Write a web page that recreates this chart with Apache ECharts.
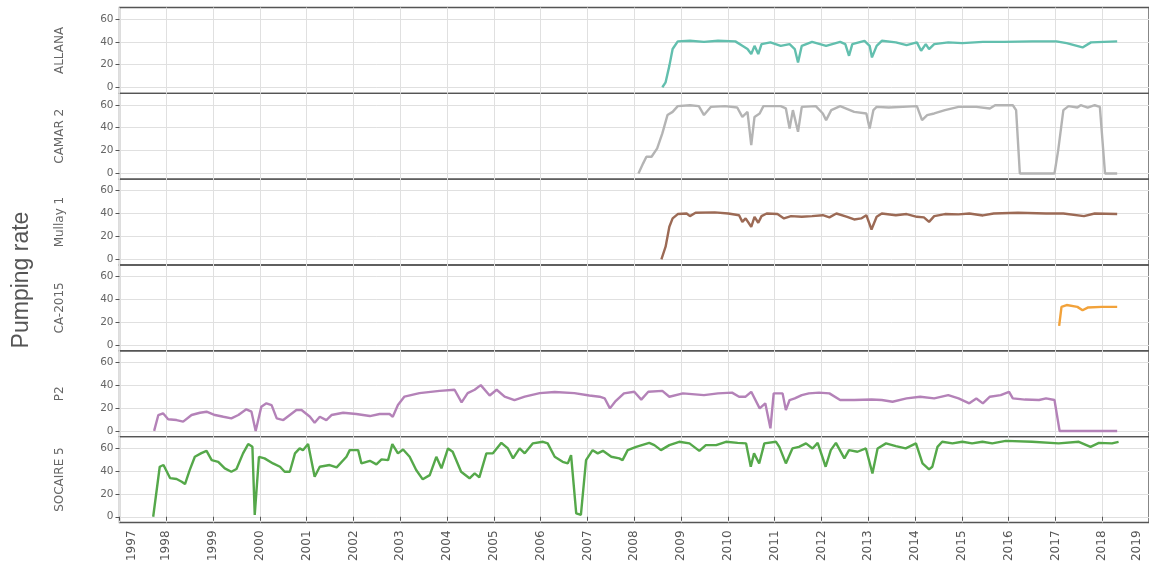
<!DOCTYPE html>
<html><head><meta charset="utf-8">
<script src="https://cdn.jsdelivr.net/npm/echarts@6/dist/echarts.min.js"></script>
<style>html,body{margin:0;padding:0;background:#fff}#c{width:1149px;height:574px}</style>
</head><body><div id="c"></div>
<script>
const panelNames = ['ALLANA', 'CAMAR 2', 'Mullay 1', 'CA-2015', 'P2', 'SOCAIRE 5'];
const yTicks = [0, 20, 40, 60];
const xMin = 1997, xMax = 2019;
const yLabel = 'Pumping rate';

const allanaT = [2008.60,2008.67,2008.75,2008.82,2008.93,2009.19,2009.49,2009.79,2010.16,2010.31,2010.42,2010.50,2010.57,2010.65,2010.72,2010.91,2011.13,2011.32,2011.43,2011.50,2011.58,2011.80,2012.10,2012.40,2012.51,2012.59,2012.66,2012.92,2013.03,2013.08,2013.18,2013.29,2013.59,2013.82,2014.04,2014.13,2014.23,2014.30,2014.41,2014.71,2015.01,2015.45,2015.90,2016.50,2017.02,2017.24,2017.58,2017.76,2018.32];
const allanaV = [0.3,4.6,19,33.7,40.4,40.9,40,40.9,40.4,36.5,33.7,29.3,36.5,29.3,38,39.5,36.5,38,33.7,22,36.5,40,36.5,40,38,27.8,38,40.9,36.5,26.4,36.5,40.9,39.5,37.1,39.5,32.2,38,33.7,38,39.5,38.9,40,40,40.4,40.4,38.9,35.1,39.5,40.4];

const camarT = [2008.09,2008.19,2008.26,2008.37,2008.49,2008.60,2008.71,2008.82,2008.93,2009.19,2009.38,2009.49,2009.64,2009.94,2010.20,2010.31,2010.42,2010.50,2010.57,2010.68,2010.76,2011.13,2011.24,2011.32,2011.39,2011.50,2011.58,2011.88,2012.03,2012.10,2012.21,2012.40,2012.70,2012.96,2013.03,2013.11,2013.18,2013.44,2013.74,2014.04,2014.15,2014.26,2014.41,2014.64,2014.93,2015.31,2015.60,2015.71,2016.09,2016.16,2016.24,2016.98,2017.06,2017.17,2017.28,2017.47,2017.54,2017.69,2017.84,2017.95,2018.06,2018.32];
const camarV = [0,8.8,14.6,14.6,21.9,35,51,53.8,58.8,59.6,58.8,51,58.2,58.8,57.6,49.4,53.8,24.8,49.4,52.4,58.8,58.8,56.8,39.3,55.3,36.4,58.2,58.8,52.4,46.6,55.3,58.8,53.8,52.4,39.3,55.3,58.2,57.6,58.2,58.8,46.6,51,52.4,55.3,58.2,58.2,56.8,59.6,59.6,55.3,0,0,20.4,55.3,58.8,57.6,59.6,57.6,59.6,58.2,0,0];

const mullayT = [2008.58,2008.67,2008.75,2008.82,2008.93,2009.12,2009.19,2009.31,2009.72,2010.01,2010.24,2010.31,2010.38,2010.50,2010.57,2010.65,2010.72,2010.83,2011.06,2011.20,2011.35,2011.58,2011.80,2012.03,2012.17,2012.32,2012.55,2012.70,2012.85,2012.96,2013.07,2013.18,2013.29,2013.59,2013.82,2014.04,2014.19,2014.30,2014.41,2014.64,2014.93,2015.16,2015.45,2015.68,2016.20,2016.80,2017.17,2017.61,2017.84,2018.32];
const mullayV = [0,11,28.4,35.7,39.5,40,37.7,40.6,41,40,38.5,32.7,35.7,28.4,37.1,31.9,37.7,40,39.5,35.7,37.7,37.1,37.7,38.5,36.6,40,37.1,34.8,35.7,38.5,26,37.1,40,38.5,39.5,37.1,36.6,32.7,37.7,39.5,39.2,40,38.3,40,40.6,40,40,37.7,40,39.5];

const ca2015T = [2017.08,2017.13,2017.24,2017.47,2017.58,2017.69,2017.99,2018.32];
const ca2015V = [16.8,33.4,35,33.4,30.5,32.8,33.4,33.4];

const p2T = [1997.74,1997.83,1997.93,1998.04,1998.22,1998.36,1998.54,1998.72,1998.86,1999.04,1999.22,1999.39,1999.54,1999.71,1999.82,1999.91,2000.03,2000.14,2000.25,2000.36,2000.50,2000.64,2000.78,2000.89,2001.07,2001.17,2001.28,2001.42,2001.53,2001.78,2002.06,2002.35,2002.56,2002.77,2002.84,2002.95,
  2003.09,2003.41,2003.84,2004.16,2004.31,2004.44,2004.59,2004.72,2004.91,2005.06,2005.23,2005.44,2005.66,2005.98,2006.30,2006.72,2007.04,
  2007.26,2007.37,2007.48,2007.59,2007.78,2008.00,2008.15,2008.30,2008.60,2008.75,2009.04,2009.49,2009.79,2010.09,2010.24,2010.38,2010.50,2010.68,2010.80,2010.91,2010.98,2011.17,2011.24,2011.32,2011.43,2011.58,2011.73,2011.95,2012.17,2012.40,2012.70,2013.07,2013.29,2013.52,2013.82,2014.11,2014.41,2014.71,2014.93,2015.16,2015.31,2015.45,2015.60,2015.83,2016.01,2016.09,2016.35,2016.65,2016.80,2016.98,2017.09,2018.32];
const p2V = [0,13.9,15.4,10.2,9.5,8.1,13.9,15.9,16.8,13.9,12.4,11,13.9,18.9,16.8,0,21.1,24.1,22.6,11,9.5,13.9,18.3,18.3,12.4,7.2,12.4,9.5,13.9,15.9,14.8,13,14.8,14.8,12.4,22.6,
  30,33,35,36,25,33,36,40,31,36,30,27,30,33,34,33,31,
  29.9,28.4,19.7,25.5,32.8,34.2,27.4,34.2,35,29.9,32.8,31.3,32.8,33.5,29.9,29.9,34.2,19.7,24.1,2.3,32.8,32.8,18.3,27,28.4,31.3,32.8,33.5,32.8,27,27,27.4,27,25.5,28.4,29.9,28.4,31.3,28.4,24.1,28.4,24.1,29.9,31.3,34.2,28.4,27.4,27,28.4,27,0,0];

const socaireT = [1997.72,1997.86,1997.94,1998.08,1998.22,1998.33,1998.40,1998.50,1998.61,1998.75,1998.86,1998.97,1999.11,1999.25,1999.39,1999.50,1999.64,1999.75,1999.84,1999.89,1999.98,2000.10,2000.28,2000.43,2000.53,2000.64,2000.75,2000.85,2000.92,2001.03,2001.17,2001.28,2001.49,2001.64,2001.85,2001.92,2002.10,2002.17,2002.35,2002.49,2002.60,2002.74,2002.83,2002.95,2003.06,2003.20,2003.34,2003.48,2003.63,2003.77,2003.88,2004.02,2004.12,2004.30,2004.48,2004.59,2004.69,2004.84,2004.98,2005.16,2005.30,2005.41,2005.55,2005.66,2005.83,2006.05,2006.15,2006.30,2006.47,2006.58,2006.65,2006.76,2006.86,2006.97,2007.11,2007.22,2007.33,2007.51,2007.68,2007.75,2007.86,2008.04,2008.32,2008.43,2008.57,2008.75,2008.96,2009.18,2009.39,2009.53,2009.75,2009.96,2010.21,2010.39,2010.49,2010.56,2010.67,2010.78,2011.03,2011.10,2011.24,2011.38,2011.52,2011.67,2011.81,2011.92,2012.09,2012.20,2012.31,2012.49,2012.59,2012.77,2012.95,2013.09,2013.20,2013.38,2013.59,2013.80,2014.02,2014.16,2014.30,2014.37,2014.48,2014.58,2014.80,2015.01,2015.22,2015.44,2015.65,2015.94,2016.50,2017.07,2017.50,2017.75,2017.93,2018.21,2018.35];
const socaireV = [0,43.7,45.2,33.8,33,30.6,28.6,40.8,52.4,55.6,57.6,49.5,48,42.3,39.3,41.7,55.4,63.5,61.1,1.6,52.4,51,46.6,43.7,39.3,39.3,55.4,59.7,58.2,63.5,35,43.7,45.2,43.2,52.4,58.2,58.2,46.6,48.9,45.8,50.1,49.5,63.5,55.4,58.8,52.4,40.8,32.7,36.4,52.4,42.3,59.7,56.8,39.3,33.6,37.9,34.4,55.4,55.4,64.6,59.7,51,59.7,55.4,64.1,65.5,64.1,52.4,48,46.6,53.9,3,1.6,49.5,58.2,55.4,57.6,52.4,51,49.5,58.2,61.1,64.6,62.6,58.2,62.6,65.5,64.1,57.6,62.6,62.6,65.5,64.6,64.1,43.7,55.4,46.6,64.1,65.5,61.1,46.6,59.7,61.1,64.1,59.7,64.6,43.7,58.2,64.6,51,58.2,56.8,59.7,37.9,59.7,64.1,61.7,59.7,64.1,46.6,41.4,43.7,61.1,65.5,64.1,65.5,64.1,65.5,64.1,66.3,65.5,64.1,65.5,61.1,64.6,64.1,65.5];

const seriesT = [allanaT, camarT, mullayT, ca2015T, p2T, socaireT];
const seriesV = [allanaV, camarV, mullayV, ca2015V, p2V, socaireV];
const colors = ['#62bfae', '#b4b4b4', '#9c6a55', '#f2a23a', '#b482b8', '#55a84a'];

const chart = echarts.init(document.getElementById('c'), null, {renderer: 'canvas'});
const top0 = 7.5, panelH = 85.83, left = 119.5, plotW = 1031;
const grids = [], xAxes = [], yAxes = [], series = [];
for (let k = 0; k < 6; k++) {
  const last = k === 5;
  grids.push({left: left, width: plotW, top: top0 + k * panelH, height: panelH,
    show: true, borderColor: '#555', borderWidth: 1.4, backgroundColor: 'transparent'});
  xAxes.push({type: 'value', gridIndex: k, min: xMin, max: xMax, interval: 1,
    axisLine: {show: false},
    axisTick: {show: last, length: 4, lineStyle: {color: '#555'}},
    splitLine: {show: true, lineStyle: {color: '#e0e0e0', width: 1}},
    axisLabel: {show: last, rotate: 90, margin: 8, fontSize: 12, color: '#555', fontFamily: 'DejaVu Sans',
      formatter: v => v === xMin ? '{l|' + v + '}' : (v === xMax ? '{r|' + v + '}' : String(v)),
      rich: {l: {padding: [24, 0, 0, 0], fontSize: 12, color: '#555', fontFamily: 'DejaVu Sans'},
             r: {padding: [0, 0, 24, 0], fontSize: 12, color: '#555', fontFamily: 'DejaVu Sans'}}}
  });
  yAxes.push({type: 'value', gridIndex: k, min: -5, max: 70,
    name: panelNames[k], nameLocation: 'middle', nameRotate: 90, nameGap: 54,
    nameTextStyle: {fontSize: 12, color: '#666', fontFamily: 'DejaVu Sans'},
    axisLine: {show: false},
    axisTick: {show: true, length: 4, customValues: yTicks, lineStyle: {color: '#555'}},
    axisLabel: {show: true, customValues: yTicks, margin: 6, fontSize: 10.5, color: '#666', fontFamily: 'DejaVu Sans'},
    splitLine: {show: true, lineStyle: {color: '#e0e0e0', width: 1}}
  });
  series.push({type: 'line', xAxisIndex: k, yAxisIndex: k, showSymbol: false,
    data: seriesT[k].map((t, i) => [t, seriesV[k][i]]),
    lineStyle: {color: colors[k], width: 2.4}, itemStyle: {color: colors[k]}});
}
chart.setOption({
  animation: false,
  backgroundColor: '#fff',
  grid: grids, xAxis: xAxes, yAxis: yAxes, series: series,
  graphic: [{type: 'text', x: 22, y: 280, rotation: Math.PI / 2,
    style: {text: yLabel, fontSize: 23, fontFamily: 'Liberation Sans', fill: '#555', align: 'center', verticalAlign: 'middle'}}]
});
</script></body></html>
